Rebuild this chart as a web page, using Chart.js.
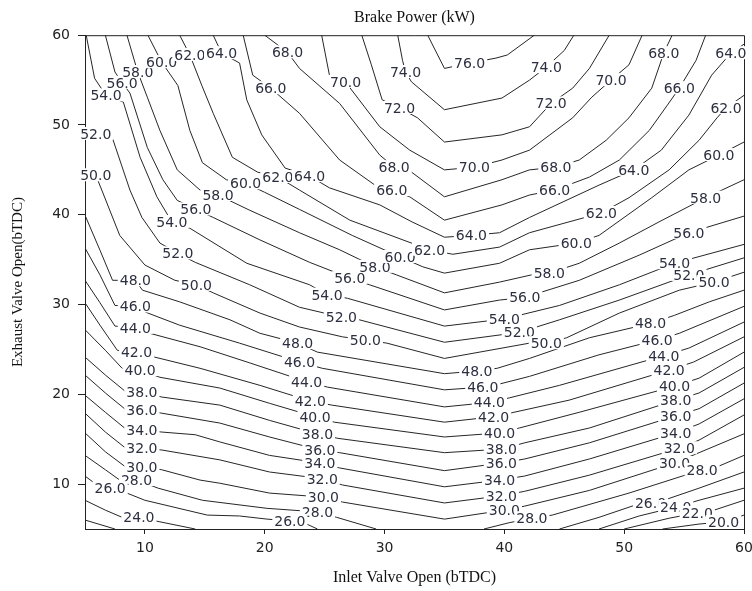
<!DOCTYPE html>
<html>
<head>
<meta charset="utf-8">
<script src="https://cdn.jsdelivr.net/npm/chart.js@4"></script>
<style>
  html, body { margin: 0; padding: 0; background: #fff; }
  canvas { display: block; }
</style>
</head>
<body>
<canvas id="c" width="752" height="591"></canvas>
<script>
// Brake power contour lines (kW) over inlet / exhaust valve opening angles.
// Each contour is a polyline of [inlet bTDC, exhaust bTDC] points.
const c76 = [[33.6,60],[35.0,56.3],[37.1,56.9],[39.3,57.45],[40.25,57.8],[42.5,60]];
const c74 = [[31.1,60],[31.5,57.2],[31.75,55.9],[32.25,54.8],[35.0,51.7],[39.8,53.0],[42.1,55.0],[43.5,56.45],[45.0,58.3],[45.8,60]];
const c72 = [[28.1,60],[28.9,56.7],[29.8,52.8],[31.25,51.9],[32.75,50.8],[35.0,48.1],[39.8,48.9],[42.1,49.8],[43.9,52.4],[45.7,54.1],[47.1,56.3],[48.75,60]];
const c70 = [[24.75,60],[25.4,55.55],[26.75,54.8],[27.25,53.9],[29.6,49.8],[32.1,47.2],[35.0,45.0],[37.5,45.3],[39.8,46.1],[42.1,47.2],[45.7,50.8],[47.3,53.1],[48.9,55.0],[50.4,56.7],[51.5,60]];
const c68 = [[20.0,60],[21.9,58.1],[22.9,56.3],[26.25,52.4],[29.6,46.65],[30.8,45.3],[32.25,44.75],[35.0,42.0],[39.8,43.9],[42.1,45.0],[44.3,45.3],[46.25,46.1],[48.5,48.3],[50.4,50.8],[52.3,54.1],[53.3,58.0],[54.0,60]];
const c66 = [[18.2,60],[19.0,55.55],[20.5,54.1],[22.9,51.3],[26.25,46.1],[29.2,43.3],[30.6,42.75],[32.1,42.0],[35.0,39.4],[39.8,41.1],[42.1,42.2],[44.2,42.75],[47.1,44.2],[49.6,46.1],[52.1,49.4],[53.6,52.2],[54.6,54.1],[56.0,57.2],[56.8,60]];
const c64 = [[15.7,60],[16.4,58.0],[17.9,56.9],[18.5,52.8],[19.75,48.9],[21.7,45.2],[23.75,44.3],[25.4,43.0],[29.6,41.1],[32.3,39.2],[35.0,37.5],[37.25,37.7],[39.6,38.0],[42.1,39.7],[47.9,43.3],[50.8,45.0],[53.1,47.2],[55.4,51.1],[57.3,55.55],[58.9,58.0],[60,59.0]];
const c62 = [[12.9,60],[13.75,57.8],[14.75,54.4],[15.7,51.3],[17.3,46.4],[19.4,44.75],[21.1,44.2],[22.9,42.75],[27.1,39.4],[33.75,36.1],[35.7,35.6],[39.6,36.4],[42.1,38.0],[48.1,40.2],[50.4,41.9],[53.75,45.0],[56.25,48.3],[57.75,50.8],[58.5,51.9],[60,53.3]];
const c60 = [[10.25,60],[11.4,57.0],[12.75,54.4],[13.75,49.4],[14.8,45.8],[16.8,43.9],[18.4,43.5],[20.0,42.5],[22.9,40.6],[27.3,37.7],[31.3,35.3],[33.2,34.2],[35.0,33.5],[39.6,34.6],[42.1,36.1],[46.0,36.85],[47.9,37.7],[52.3,41.9],[55.4,45.0],[57.9,46.65],[60,48.1]];
const c58 = [[8.5,60],[9.4,55.9],[10.2,53.1],[11.25,49.4],[12.7,45.0],[14.6,42.75],[16.1,42.2],[18.75,40.5],[22.9,38.0],[26.25,36.1],[29.2,34.2],[31.0,33.3],[35.0,31.3],[39.6,32.5],[42.25,33.3],[43.75,33.5],[46.25,34.6],[49.6,36.85],[52.9,39.2],[56.8,41.9],[60,43.9]];
const c56 = [[6.7,60],[7.5,55.9],[8.1,54.7],[8.75,53.55],[10.2,47.5],[11.5,43.9],[12.7,41.6],[14.25,40.6],[15.7,39.7],[19.6,37.2],[23.75,34.7],[27.1,32.95],[28.75,32.2],[35.0,29.4],[39.6,30.5],[41.7,30.8],[46.25,32.7],[51.25,35.5],[55.4,38.0],[60,39.85]];
const c54 = [[5.1,60],[5.8,55.2],[6.75,53.3],[8.2,52.55],[9.6,46.4],[11.0,42.0],[12.25,39.2],[13.75,38.5],[18.5,34.6],[23.75,32.2],[25.2,31.1],[26.9,30.7],[35.0,27.6],[40.0,28.4],[44.6,29.9],[49.6,32.2],[54.2,34.6],[60,36.7]];
const c52 = [[5,49.0],[5.9,49.0],[7.3,48.5],[8.75,42.75],[9.75,39.7],[11.25,36.85],[12.75,35.7],[14.2,34.7],[18.75,32.2],[22.9,29.7],[26.4,28.6],[27.9,28.3],[35.0,25.8],[41.25,26.9],[44.6,28.3],[49.6,30.5],[55.4,33.3],[60,35.2]];
const c50 = [[5,44.4],[5.9,44.4],[6.4,42.75],[7.9,37.7],[10.0,34.4],[12.5,32.7],[14.3,32.2],[15.7,31.3],[19.6,29.05],[22.9,27.5],[26.5,26.4],[28.4,26.05],[30.2,25.7],[35.0,24.0],[42.1,25.7],[43.5,25.7],[45.2,26.3],[49.6,29.05],[54.6,31.6],[57.5,32.5],[60,33.6]];
const c48 = [[5,39.95],[6.25,36.05],[7.3,32.7],[9.2,32.7],[9.8,31.6],[12.9,30.3],[17.1,28.3],[19.6,26.8],[22.75,25.7],[24.4,24.7],[35.0,22.3],[37.7,22.6],[39.4,22.9],[42.1,24.0],[47.1,26.3],[52.2,27.9],[54.2,28.8],[57.1,30.3],[60,31.6]];
const c46 = [[5,36.3],[6.25,33.3],[7.5,29.9],[9.2,29.8],[10.25,29.05],[12.9,27.7],[17.9,25.7],[22.9,23.6],[24.8,22.9],[35.0,20.5],[38.2,20.8],[39.6,21.15],[42.1,22.0],[47.9,24.4],[52.75,26.05],[54.6,26.8],[60,29.8]];
const c44 = [[5,32.7],[6.25,30.2],[7.5,27.6],[9.2,27.4],[10.4,26.8],[14.6,25.3],[18.75,23.5],[23.5,21.4],[25.25,20.8],[35.0,18.6],[38.75,19.1],[40.4,19.6],[44.6,21.0],[53.3,24.3],[55.4,25.15],[60,28.05]];
const c42 = [[5,30.2],[6.25,27.7],[7.7,24.9],[9.3,24.7],[10.8,24.15],[14.6,22.9],[19.6,21.0],[23.8,19.25],[25.6,18.8],[35.0,16.9],[39.1,17.5],[40.8,18.0],[45.4,19.35],[53.75,22.7],[55.8,23.6],[60,26.4]];
const c40 = [[5,27.2],[6.7,24.9],[8.1,22.9],[9.6,22.7],[11.25,21.9],[16.25,20.7],[20.4,19.0],[24.2,17.5],[25.8,16.9],[35.0,15.25],[39.6,15.7],[41.25,16.25],[46.25,18.0],[54.2,20.9],[56.25,21.8],[60,24.7]];
const c38 = [[5,24.15],[6.7,22.15],[8.3,20.4],[9.75,20.25],[11.4,19.7],[16.25,18.8],[20.4,17.1],[24.4,15.6],[26.1,15.1],[35.0,13.5],[39.75,13.9],[41.7,14.6],[47.1,16.25],[54.3,19.35],[56.25,20.15],[60,23.0]];
const c36 = [[5,22.15],[6.7,20.15],[8.3,18.4],[9.75,18.25],[11.4,17.9],[16.25,16.8],[20.4,15.25],[24.6,13.8],[26.25,13.5],[35.0,11.5],[39.75,12.35],[41.7,12.8],[47.1,14.6],[54.3,17.6],[56.25,18.4],[60,21.25]];
const c34 = [[5,19.9],[6.7,18.0],[8.3,16.25],[9.75,16.0],[11.4,15.8],[14.2,15.5],[16.25,14.7],[20.4,13.2],[24.6,12.35],[26.25,11.8],[35.0,9.7],[39.6,10.45],[41.7,10.9],[47.1,12.8],[54.3,15.7],[56.25,16.7],[60,19.5]];
const c32 = [[5,17.9],[6.7,15.8],[8.3,14.1],[9.75,14.0],[11.4,13.8],[16.25,12.7],[20.4,11.35],[24.8,10.6],[26.5,9.9],[35.0,7.9],[39.75,8.7],[41.7,9.2],[47.1,11.0],[54.6,14.0],[56.25,14.9],[60,17.7]];
const c30 = [[5,15.7],[6.7,13.6],[8.3,12.0],[9.75,11.9],[11.4,11.6],[14.6,10.45],[16.25,10.1],[20.4,9.0],[24.9,8.55],[26.5,8.0],[35.0,6.1],[40.0,7.1],[41.7,7.55],[47.1,9.3],[54.2,12.35],[56.25,13.5],[60,15.6]];
const c28a = [[5,13.2],[6.7,11.6],[7.9,10.45],[9.3,10.45],[11.1,9.55],[14.8,8.2],[20.2,7.3],[24.4,6.9],[26.0,6.3],[29.3,5]];
const c28b = [[38.3,5],[40.4,5.7],[42.3,6.2],[44.0,6.55],[50.4,9.0],[56.5,11.6],[57.9,12.0],[60,13.2]];
const c26a = [[5,10.9],[5.7,10.2],[7.1,9.55],[8.5,9.0],[10.0,8.2],[15.2,6.55],[17.9,6.45],[20.2,6.1],[22.1,5.9],[23.5,5.55],[24.4,5]];
const c26b = [[44.6,5],[47.9,6.3],[51.0,7.7],[52.2,7.9],[53.3,8.2],[56.25,9.55],[60,11.35]];
const c24a = [[5,8.2],[6.7,7.1],[8.1,6.3],[9.5,6.3],[11.25,5.8],[14.2,5]];
const c24b = [[47.9,5],[51.25,6.45],[54.3,7.45],[56.25,8.2],[60,9.55]];
const c22a = [[5,6.0],[7.5,5]];
const c22b = [[50.0,5],[53.75,6.2],[56.1,6.8],[57.5,7.1],[60,8.2]];
const c20 = [[53.2,5],[56.25,5.55],[58.3,5.8],[60,6.55]];

// [power level, polyline]
const contourSegments = [
  [76,c76],[74,c74],[72,c72],[70,c70],[68,c68],[66,c66],[64,c64],[62,c62],
  [60,c60],[58,c58],[56,c56],[54,c54],[52,c52],[50,c50],[48,c48],[46,c46],
  [44,c44],[42,c42],[40,c40],[38,c38],[36,c36],[34,c34],[32,c32],[30,c30],
  [28,c28a],[28,c28b],[26,c26a],[26,c26b],[24,c24a],[24,c24b],[22,c22a],[22,c22b],[20,c20]
];

// Inline contour labels: [power level, inlet, exhaust]
const labelsTopLeft = [[54,6.75,53.3],[56,8.1,54.7],[58,9.4,55.9],[60,11.4,57.0],[62,13.75,57.8],[64,16.4,58.0],
  [66,20.5,54.1],[68,21.9,58.1],[70,26.75,54.8],[72,31.25,51.9],[74,31.75,55.9],[76,37.1,56.9]];
const labelsLeftEdge = [[52,5.9,49.0],[50,5.9,44.4]];
const labelsUpperLeft = [[54,12.25,39.2],[56,14.25,40.6],[58,16.1,42.2],[60,18.4,43.5],[62,21.1,44.2],[64,23.75,44.3],
  [52,12.75,35.7],[50,14.3,32.2]];
const labelsLeft = [[48,9.2,32.7],[46,9.2,29.8],[44,9.2,27.4],[42,9.3,24.7],[40,9.6,22.7],[38,9.75,20.25],[36,9.75,18.25],
  [34,9.75,16.0],[32,9.75,14.0],[28,9.3,10.45],[30,9.75,11.9],[26,7.1,9.55],[24,9.5,6.3]];
const labelsCentre = [[48,22.75,25.7],[46,22.9,23.6],[44,23.5,21.4],[42,23.8,19.25],[40,24.2,17.5],[38,24.4,15.6],
  [36,24.6,13.8],[34,24.6,12.35],[32,24.8,10.6],[30,24.9,8.55],[28,24.4,6.9],[26,22.1,5.9],
  [54,25.2,31.1],[52,26.4,28.6],[50,28.4,26.05],[56,27.1,32.95],[58,29.2,34.2],[60,31.3,35.3],
  [62,33.75,36.1],[64,37.25,37.7],[66,30.6,42.75],[68,30.8,45.3],[70,37.5,45.3]];
const labelsCentreRight = [[48,37.7,22.6],[46,38.2,20.8],[44,38.75,19.1],[42,39.1,17.5],[40,39.6,15.7],[38,39.75,13.9],
  [36,39.75,12.35],[34,39.6,10.45],[32,39.75,8.7],[30,40.0,7.1],[28,42.3,6.2],
  [56,41.7,30.8],[54,40.0,28.4],[52,41.25,26.9],[50,43.5,25.7],[58,43.75,33.5],[60,46.0,36.85],
  [62,48.1,40.2],[64,50.8,45.0],[66,44.2,42.75],[68,44.3,45.3],[70,48.9,55.0],[72,43.9,52.4],[74,43.5,56.45]];
const labelsRight = [[48,52.2,27.9],[46,52.75,26.05],[44,53.3,24.3],[42,53.75,22.7],[40,54.2,20.9],[38,54.3,19.35],
  [36,54.3,17.6],[34,54.3,15.7],[32,54.6,14.0],[30,54.2,12.35],[28,56.5,11.6],
  [26,52.2,7.9],[24,54.3,7.45],[22,56.1,6.8],[20,58.3,5.8],
  [56,55.4,38.0],[54,54.2,34.6],[52,55.4,33.3],[50,57.5,32.5],[58,56.8,41.9],[60,57.9,46.65],
  [62,58.5,51.9],[64,58.9,58.0],[66,54.6,54.1],[68,53.3,58.0]];

const xTickValues = [10, 20, 30, 40, 50, 60];
const yTickValues = [10, 20, 30, 40, 50, 60];

const allLabels = [].concat(labelsTopLeft, labelsLeftEdge, labelsUpperLeft, labelsLeft,
  labelsCentre, labelsCentreRight, labelsRight);

// Closes the plot frame on the top and right sides
const frameBox = {
  id: 'frameBox',
  beforeDatasetsDraw(chart) {
    const { ctx, chartArea: a } = chart;
    ctx.save();
    ctx.strokeStyle = '#222';
    ctx.lineWidth = 1;
    ctx.beginPath();
    ctx.moveTo(a.left, a.top + 0.5);
    ctx.lineTo(a.right + 0.5, a.top + 0.5);
    ctx.lineTo(a.right + 0.5, a.bottom);
    ctx.stroke();
    ctx.restore();
  }
};

// Level values written on the contours, over a white patch that breaks the line
const contourLabels = {
  id: 'contourLabels',
  afterDraw(chart) {
    const { ctx } = chart;
    const xs = chart.scales.x, ys = chart.scales.y;
    ctx.save();
    ctx.font = '14px "DejaVu Sans", sans-serif';
    ctx.textAlign = 'center';
    ctx.textBaseline = 'alphabetic';
    allLabels.forEach(([level, x, y]) => {
      const px = xs.getPixelForValue(x);
      const py = ys.getPixelForValue(y);
      const text = level.toFixed(1);
      const w = ctx.measureText(text).width;
      ctx.fillStyle = '#ffffff';
      ctx.fillRect(px - w / 2 - 2, py - 7, w + 4, 13);
      ctx.fillStyle = '#2c2f3f';
      ctx.fillText(text, px, py + 5);
    });
    ctx.restore();
  }
};

new Chart(document.getElementById('c'), {
  type: 'scatter',
  data: {
    datasets: contourSegments.map(([level, pts]) => ({
      label: level.toFixed(1),
      data: pts.map(([x, y]) => ({ x, y })),
      showLine: true,
      borderColor: '#262626',
      borderWidth: 1,
      pointRadius: 0,
      pointHoverRadius: 0,
      fill: false,
      tension: 0
    }))
  },
  options: {
    responsive: false,
    devicePixelRatio: 1,
    animation: false,
    events: [],
    layout: { padding: { left: 0, right: 0, top: 0, bottom: 0 } },
    plugins: {
      legend: { display: false },
      tooltip: { enabled: false },
      title: {
        display: true,
        text: 'Brake Power (kW)',
        fullSize: false,
        color: '#111',
        font: { family: '"Liberation Serif", serif', size: 16, weight: 'normal' },
        padding: { top: 8, bottom: 8 }
      }
    },
    scales: {
      x: {
        type: 'linear',
        min: 5,
        max: 60,
        afterBuildTicks: s => { s.ticks = xTickValues.map(v => ({ value: v })); },
        afterFit: s => { s.height = 62; s.paddingRight = 8; },
        ticks: {
          autoSkip: false,
          maxRotation: 0,
          color: '#222',
          padding: 6,
          font: { family: '"DejaVu Sans", sans-serif', size: 14 }
        },
        grid: { drawOnChartArea: false, drawTicks: true, tickLength: 5, color: '#222' },
        border: { display: true, color: '#222', width: 1 },
        title: {
          display: true,
          text: 'Inlet Valve Open (bTDC)',
          color: '#111',
          font: { family: '"Liberation Serif", serif', size: 16 },
          padding: { top: 0, bottom: 4 }
        }
      },
      y: {
        type: 'linear',
        min: 5,
        max: 60,
        afterBuildTicks: s => { s.ticks = yTickValues.map(v => ({ value: v })); },
        afterFit: s => { s.width = 85; },
        ticks: {
          autoSkip: false,
          color: '#222',
          padding: 8,
          font: { family: '"DejaVu Sans", sans-serif', size: 14 }
        },
        grid: { drawOnChartArea: false, drawTicks: true, tickLength: 7, color: '#222' },
        border: { display: true, color: '#222', width: 1 },
        title: {
          display: true,
          text: 'Exhaust Valve Open(bTDC)',
          color: '#111',
          font: { family: '"Liberation Serif", serif', size: 15 },
          padding: { top: 9, bottom: 0 }
        }
      }
    }
  },
  plugins: [frameBox, contourLabels]
});
</script>
</body>
</html>
